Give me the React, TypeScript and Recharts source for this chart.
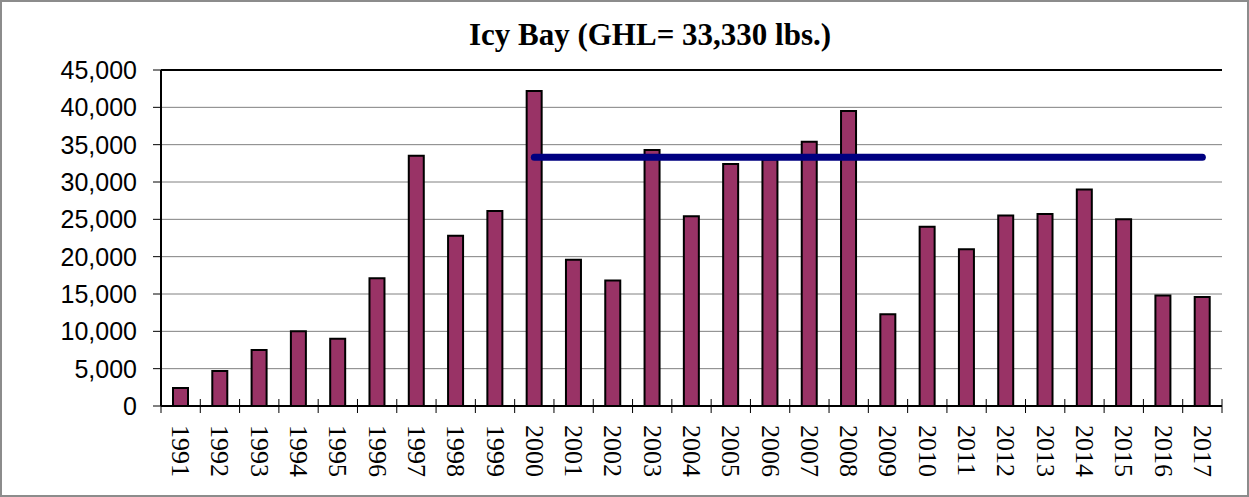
import { BarChart, Bar, Line, XAxis, YAxis, CartesianGrid, ReferenceLine } from "recharts";

// Icy Bay harvest by year
const years = [
  "1991", "1992", "1993", "1994", "1995", "1996", "1997", "1998", "1999",
  "2000", "2001", "2002", "2003", "2004", "2005", "2006", "2007", "2008",
  "2009", "2010", "2011", "2012", "2013", "2014", "2015", "2016", "2017",
];
const harvest = [
  2400, 4700, 7500, 10000, 9000, 17100, 33500, 22800, 26100,
  42200, 19600, 16800, 34300, 25400, 32400, 33000, 35400, 39500,
  12300, 24000, 21000, 25500, 25700, 29000, 25000, 14800, 14600,
];
// GHL line only drawn from 2000 on
const ghl = [
  null, null, null, null, null, null, null, null, null,
  33330, 33330, 33330, 33330, 33330, 33330, 33330, 33330, 33330,
  33330, 33330, 33330, 33330, 33330, 33330, 33330, 33330, 33330,
];
const yTicks = [0, 5000, 10000, 15000, 20000, 25000, 30000, 35000, 40000, 45000];

const data = years.map((year, i) => ({ year, harvest: harvest[i], ghl: ghl[i] }));

const W = 1249;
const H = 497;
const PLOT_LEFT = 161;
const PLOT_RIGHT = 1222;
const BAND = (PLOT_RIGHT - PLOT_LEFT) / years.length;

function YearTick(props: any) {
  const { x, y, payload, index } = props;
  const axisY = y - 8;
  return (
    <g>
      {index === 0 && (
        <line x1={x - BAND / 2} x2={x - BAND / 2} y1={axisY - 7} y2={axisY + 7} stroke="#000" />
      )}
      <line x1={x + BAND / 2} x2={x + BAND / 2} y1={axisY - 7} y2={axisY + 7} stroke="#000" />
      <text
        transform={`translate(${x},${y + 11}) rotate(90)`}
        textAnchor="start"
        dominantBaseline="central"
        style={{ fontFamily: '"Liberation Serif", serif', fontSize: 26 }}
        fill="#000"
      >
        {payload.value}
      </text>
    </g>
  );
}

export default function App() {
  return (
    <div style={{ position: "absolute", left: 0, top: 0, width: W, height: H, background: "#fff" }}>
      <div
        style={{
          position: "absolute",
          left: 350,
          top: 19,
          width: 600,
          textAlign: "center",
          fontFamily: '"Liberation Serif", serif',
          fontWeight: "bold",
          fontSize: 31,
          lineHeight: "31px",
          color: "#000",
        }}
      >
        Icy Bay (GHL= 33,330 lbs.)
      </div>
      <BarChart width={W} height={H} data={data} margin={{ top: 70, right: 27, bottom: 0, left: 0 }}>
        <CartesianGrid vertical={false} stroke="#808080" />
        <XAxis
          dataKey="year"
          interval={0}
          height={91}
          tickSize={8}
          tickMargin={0}
          tickLine={false}
          axisLine={{ stroke: "#000", strokeWidth: 2 }}
          tick={<YearTick />}
        />
        <YAxis
          width={161}
          domain={[0, 45000]}
          ticks={yTicks}
          interval={0}
          tickSize={8}
          tickMargin={16}
          tickFormatter={(v: number) => v.toLocaleString("en-US")}
          tick={{ fontFamily: "Liberation Sans", fontSize: 25, fill: "#000" }}
          tickLine={{ stroke: "#000" }}
          axisLine={{ stroke: "#000", strokeWidth: 2 }}
        />
        <YAxis
          yAxisId="right"
          orientation="right"
          width={0}
          domain={[0, 45000]}
          tick={false}
          tickLine={false}
          axisLine={{ stroke: "#000", strokeWidth: 2 }}
        />
        <ReferenceLine y={45000} stroke="#000" strokeWidth={2} />
        <Bar dataKey="harvest" fill="#993366" stroke="#000" strokeWidth={2} barSize={15} isAnimationActive={false} />
        <Line
          dataKey="ghl"
          stroke="#000080"
          strokeWidth={7}
          strokeLinecap="round"
          dot={false}
          activeDot={false}
          isAnimationActive={false}
        />
      </BarChart>
      <div
        style={{
          position: "absolute",
          left: 0,
          top: 0,
          width: W,
          height: H,
          boxSizing: "border-box",
          border: "2px solid #8c8c8c",
          pointerEvents: "none",
        }}
      />
    </div>
  );
}
